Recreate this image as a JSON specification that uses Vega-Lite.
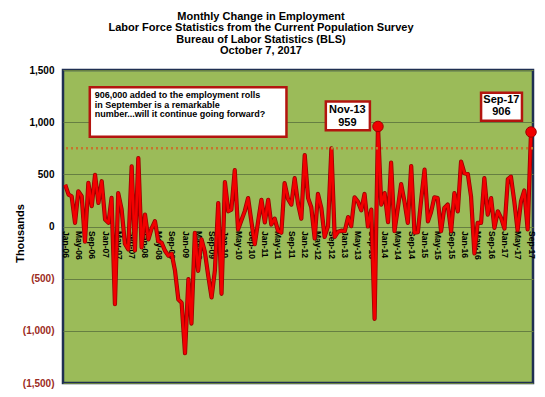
{
  "$schema": "https://vega.github.io/schema/vega-lite/v6.json",
  "autosize": {"type": "none"},
  "width": 470,
  "height": 313,
  "padding": {"left": 63, "top": 70, "right": 12, "bottom": 14},
  "background": "white",
  "title": {
    "text": ["Monthly Change in Employment", "Labor Force Statistics from the Current Population Survey", "Bureau of Labor Statistics (BLS)", "October 7, 2017"],
    "font": "Liberation Sans", "fontSize": 11, "fontWeight": "bold", "color": "black",
    "anchor": "middle", "dx": -37, "offset": 9, "lineHeight": 11.5
  },
  "datasets": {
    "jobs": [
      {"date": "2006-01-01", "value": 400}, {"date": "2006-02-01", "value": 306}, {"date": "2006-03-01", "value": 290}, {"date": "2006-04-01", "value": 35}, {"date": "2006-05-01", "value": 338}, {"date": "2006-06-01", "value": 290}, {"date": "2006-07-01", "value": -145}, {"date": "2006-08-01", "value": 418}, {"date": "2006-09-01", "value": 195}, {"date": "2006-10-01", "value": 495}, {"date": "2006-11-01", "value": 226}, {"date": "2006-12-01", "value": 434},
      {"date": "2007-01-01", "value": 67}, {"date": "2007-02-01", "value": 35}, {"date": "2007-03-01", "value": 274}, {"date": "2007-04-01", "value": -745}, {"date": "2007-05-01", "value": 320}, {"date": "2007-06-01", "value": 165}, {"date": "2007-07-01", "value": -165}, {"date": "2007-08-01", "value": -220}, {"date": "2007-09-01", "value": 577}, {"date": "2007-10-01", "value": -230}, {"date": "2007-11-01", "value": 655}, {"date": "2007-12-01", "value": -200},
      {"date": "2008-01-01", "value": 115}, {"date": "2008-02-01", "value": -124}, {"date": "2008-03-01", "value": -20}, {"date": "2008-04-01", "value": 51}, {"date": "2008-05-01", "value": -140}, {"date": "2008-06-01", "value": -155}, {"date": "2008-07-01", "value": -230}, {"date": "2008-08-01", "value": -280}, {"date": "2008-09-01", "value": -260}, {"date": "2008-10-01", "value": -420}, {"date": "2008-11-01", "value": -700}, {"date": "2008-12-01", "value": -730},
      {"date": "2009-01-01", "value": -1215}, {"date": "2009-02-01", "value": -505}, {"date": "2009-03-01", "value": -930}, {"date": "2009-04-01", "value": -60}, {"date": "2009-05-01", "value": -425}, {"date": "2009-06-01", "value": -122}, {"date": "2009-07-01", "value": -240}, {"date": "2009-08-01", "value": -470}, {"date": "2009-09-01", "value": -680}, {"date": "2009-10-01", "value": -425}, {"date": "2009-11-01", "value": 225}, {"date": "2009-12-01", "value": -645},
      {"date": "2010-01-01", "value": 425}, {"date": "2010-02-01", "value": 146}, {"date": "2010-03-01", "value": 162}, {"date": "2010-04-01", "value": 540}, {"date": "2010-05-01", "value": -30}, {"date": "2010-06-01", "value": 60}, {"date": "2010-07-01", "value": 145}, {"date": "2010-08-01", "value": 272}, {"date": "2010-09-01", "value": 40}, {"date": "2010-10-01", "value": -170}, {"date": "2010-11-01", "value": 50}, {"date": "2010-12-01", "value": 256},
      {"date": "2011-01-01", "value": 40}, {"date": "2011-02-01", "value": 256}, {"date": "2011-03-01", "value": 19}, {"date": "2011-04-01", "value": 75}, {"date": "2011-05-01", "value": -40}, {"date": "2011-06-01", "value": -60}, {"date": "2011-07-01", "value": 415}, {"date": "2011-08-01", "value": 265}, {"date": "2011-09-01", "value": 210}, {"date": "2011-10-01", "value": 463}, {"date": "2011-11-01", "value": 217}, {"date": "2011-12-01", "value": 75},
      {"date": "2012-01-01", "value": 685}, {"date": "2012-02-01", "value": 272}, {"date": "2012-03-01", "value": 185}, {"date": "2012-04-01", "value": -115}, {"date": "2012-05-01", "value": 312}, {"date": "2012-06-01", "value": 178}, {"date": "2012-07-01", "value": -100}, {"date": "2012-08-01", "value": 3}, {"date": "2012-09-01", "value": 748}, {"date": "2012-10-01", "value": -100}, {"date": "2012-11-01", "value": -50}, {"date": "2012-12-01", "value": -40},
      {"date": "2013-01-01", "value": -45}, {"date": "2013-02-01", "value": 90}, {"date": "2013-03-01", "value": 3}, {"date": "2013-04-01", "value": 280}, {"date": "2013-05-01", "value": 240}, {"date": "2013-06-01", "value": 155}, {"date": "2013-07-01", "value": 312}, {"date": "2013-08-01", "value": 0}, {"date": "2013-09-01", "value": 162}, {"date": "2013-10-01", "value": -885}, {"date": "2013-11-01", "value": 959}, {"date": "2013-12-01", "value": 210},
      {"date": "2014-01-01", "value": 320}, {"date": "2014-02-01", "value": 42}, {"date": "2014-03-01", "value": 612}, {"date": "2014-04-01", "value": -45}, {"date": "2014-05-01", "value": 170}, {"date": "2014-06-01", "value": 407}, {"date": "2014-07-01", "value": 240}, {"date": "2014-08-01", "value": 35}, {"date": "2014-09-01", "value": 580}, {"date": "2014-10-01", "value": -60}, {"date": "2014-11-01", "value": -55}, {"date": "2014-12-01", "value": 255},
      {"date": "2015-01-01", "value": 545}, {"date": "2015-02-01", "value": 50}, {"date": "2015-03-01", "value": 135}, {"date": "2015-04-01", "value": 280}, {"date": "2015-05-01", "value": 272}, {"date": "2015-06-01", "value": -45}, {"date": "2015-07-01", "value": 178}, {"date": "2015-08-01", "value": 210}, {"date": "2015-09-01", "value": -45}, {"date": "2015-10-01", "value": 320}, {"date": "2015-11-01", "value": 145}, {"date": "2015-12-01", "value": 622},
      {"date": "2016-01-01", "value": 510}, {"date": "2016-02-01", "value": 502}, {"date": "2016-03-01", "value": 290}, {"date": "2016-04-01", "value": -258}, {"date": "2016-05-01", "value": 35}, {"date": "2016-06-01", "value": 35}, {"date": "2016-07-01", "value": 463}, {"date": "2016-08-01", "value": 114}, {"date": "2016-09-01", "value": 272}, {"date": "2016-10-01", "value": -13}, {"date": "2016-11-01", "value": 146}, {"date": "2016-12-01", "value": 82},
      {"date": "2017-01-01", "value": -20}, {"date": "2017-02-01", "value": 455}, {"date": "2017-03-01", "value": 478}, {"date": "2017-04-01", "value": 240}, {"date": "2017-05-01", "value": -35}, {"date": "2017-06-01", "value": 240}, {"date": "2017-07-01", "value": 345}, {"date": "2017-08-01", "value": -28}, {"date": "2017-09-01", "value": 906}
    ],
    "boxes": [
      {"date": "2006-08-14", "date2": "2011-07-18", "value": 1335, "value2": 860},
      {"date": "2012-07-12", "date2": "2013-08-19", "value": 1199, "value2": 922},
      {"date": "2016-06-01", "date2": "2017-06-10", "value": 1282, "value2": 1014}
    ],
    "note": [
      {"date": "2006-09-29", "value": 1263, "text": "906,000 added to the employment rolls"},
      {"date": "2006-09-29", "value": 1167, "text": "in September is a remarkable"},
      {"date": "2006-09-29", "value": 1083, "text": "number...will it continue going forward?"}
    ],
    "callouts": [
      {"date": "2013-01-25", "value": 1120, "text": "Nov-13"},
      {"date": "2013-01-25", "value": 992, "text": "959"},
      {"date": "2016-12-04", "value": 1215, "text": "Sep-17"},
      {"date": "2016-12-04", "value": 1094, "text": "906"}
    ]
  },
  "encoding": {
    "x": {
      "field": "date", "type": "temporal",
      "scale": {"type": "utc", "domain": [{"year": 2005, "month": 12, "date": 12, "utc": true}, {"year": 2017, "month": 9, "date": 19, "utc": true}]},
      "axis": {
        "orient": "bottom", "offset": -156.5, "domain": false, "ticks": false, "grid": false,
        "labelAngle": 90,
        "labelExpr": "utcFormat(datum.value, '%b-%y')",
        "tickCount": {"interval": "month", "step": 4},
        "labelFlush": false, "labelOverlap": false, "labelBound": false,
        "labelPadding": 4, "labelFontSize": 8.5, "labelFontWeight": "bold", "labelColor": "black",
        "labelFont": "Liberation Sans", "title": null
      }
    },
    "y": {
      "field": "value", "type": "quantitative",
      "scale": {"domain": [-1500, 1500], "nice": false, "zero": false},
      "axis": {
        "values": [-1500, -1000, -500, 0, 500, 1000, 1500],
        "domain": false, "ticks": false, "grid": true, "gridColor": "#667f42", "gridWidth": 1,
        "labelExpr": "datum.value < 0 ? '(' + format(-datum.value, ',') + ')' : format(datum.value, ',')",
        "labelColor": {"condition": {"test": "datum.value < 0", "value": "#9c2b23"}, "value": "black"},
        "labelFont": "Liberation Sans", "labelFontSize": 10, "labelFontWeight": "bold", "labelPadding": 9,
        "title": "Thousands", "titleFont": "Liberation Sans", "titleFontSize": 11, "titleFontWeight": "bold",
        "titleColor": "black", "titleX": -43, "titleY": 163, "titleAngle": -90, "titleAlign": "center", "titleBaseline": "middle"
      }
    }
  },
  "layer": [
    {"data": {"name": "jobs"}, "mark": {"type": "line", "color": "#9a0000", "strokeWidth": 4.2, "strokeJoin": "round"}},
    {"data": {"name": "jobs"}, "mark": {"type": "line", "color": "#f20000", "strokeWidth": 2.6, "strokeJoin": "round"}},
    {"data": {"values": [{"level": 750}]}, "mark": {"type": "rule", "color": "#c8742c", "strokeWidth": 2.5, "strokeDash": [2, 3]},
     "encoding": {"x": null, "y": {"field": "level", "type": "quantitative"}}},
    {"data": {"name": "jobs"}, "transform": [{"filter": "datum.value > 900"}],
     "mark": {"type": "circle", "color": "#f00000", "opacity": 1, "size": 110, "stroke": "#a00000", "strokeWidth": 1}},
    {"data": {"name": "boxes"}, "mark": {"type": "rect", "fill": "white", "stroke": "#b3150f", "strokeWidth": 2.5},
     "encoding": {"x2": {"field": "date2"}, "y2": {"field": "value2"}}},
    {"data": {"name": "note"}, "mark": {"type": "text", "align": "left", "baseline": "middle", "font": "Liberation Sans", "fontSize": 9, "fontWeight": "bold", "color": "black"},
     "encoding": {"text": {"field": "text"}}},
    {"data": {"name": "callouts"}, "mark": {"type": "text", "align": "center", "baseline": "middle", "font": "Liberation Sans", "fontSize": 11, "fontWeight": "bold", "color": "black"},
     "encoding": {"text": {"field": "text"}}}
  ],
  "config": {
    "view": {"fill": "#9bbb59", "stroke": "#1f2f52", "strokeWidth": 2.5}
  }
}
